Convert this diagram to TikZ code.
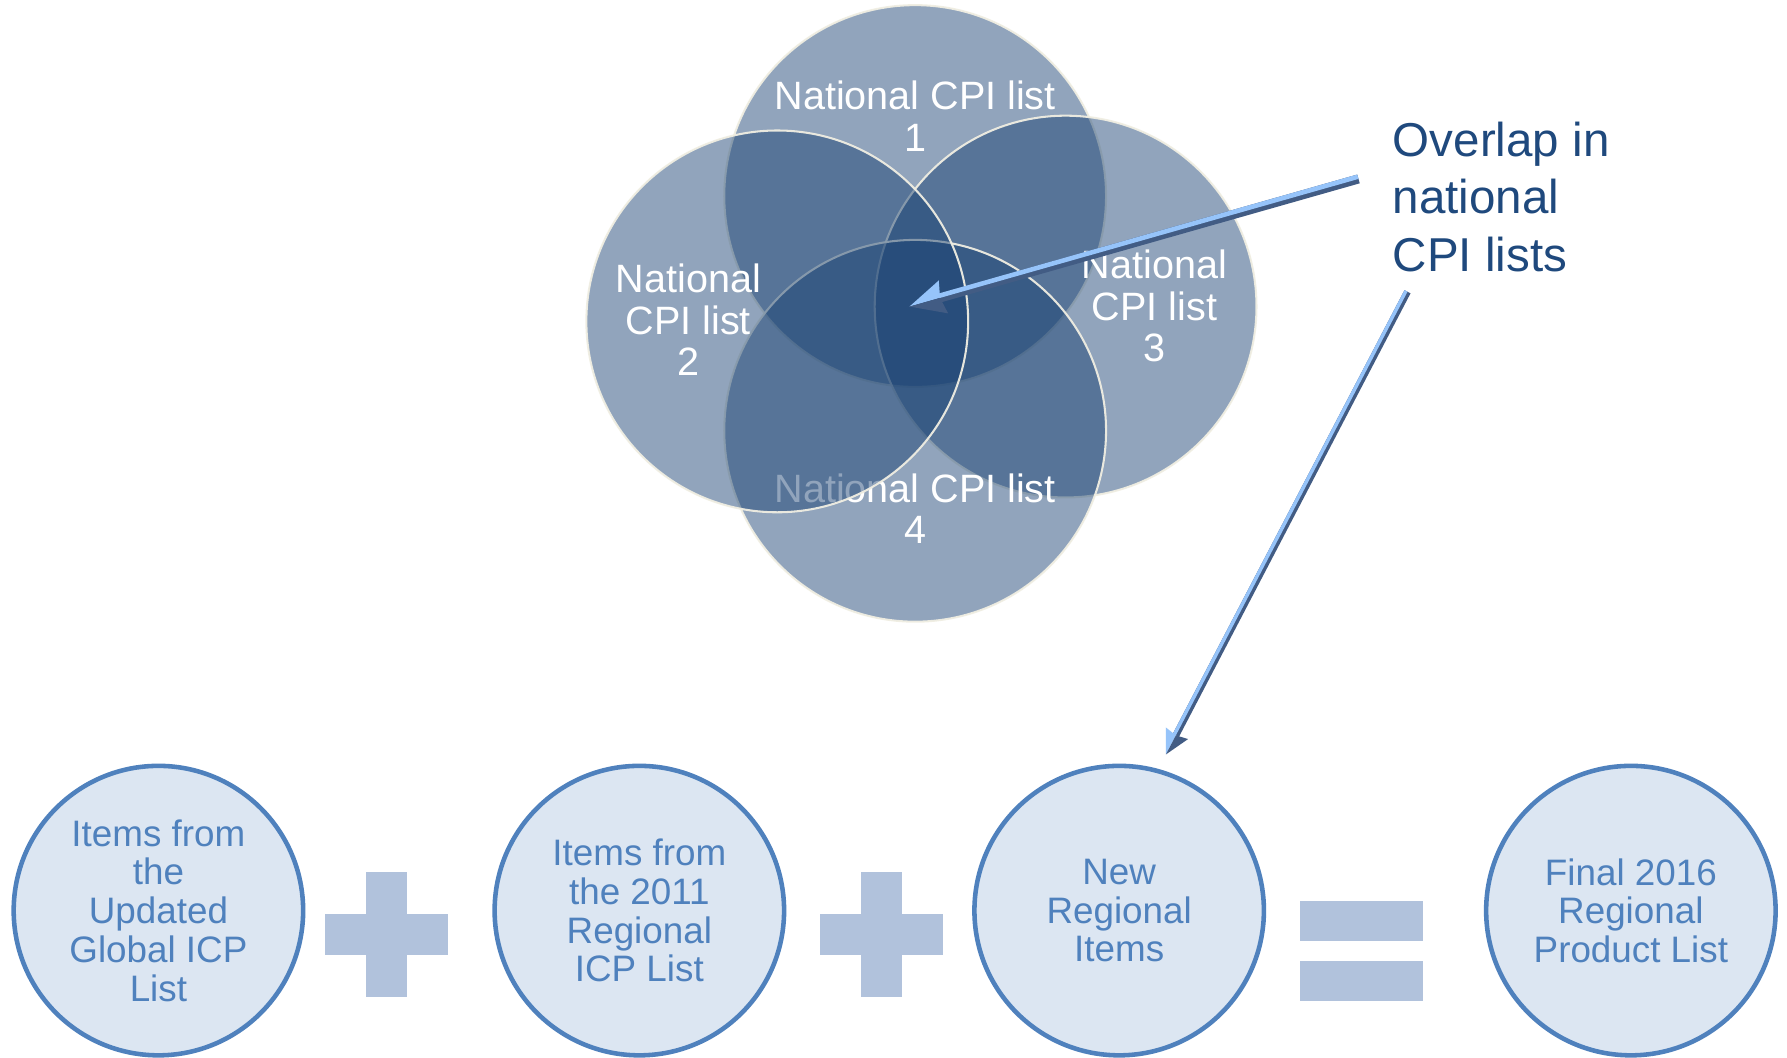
\documentclass[tikz,border=0pt]{standalone}
\usepackage{fontspec}
\setmainfont{Liberation Sans}
\usetikzlibrary{calc}
\definecolor{vennfill}{RGB}{22,63,113}
\definecolor{vennline}{RGB}{240,238,226}
\definecolor{ovalfill}{RGB}{220,230,242}
\definecolor{ovalline}{RGB}{79,129,189}
\definecolor{opcol}{RGB}{177,194,220}
\definecolor{darkblue}{RGB}{31,73,125}
\definecolor{arrlight}{RGB}{150,196,250}
\definecolor{arrdark}{RGB}{66,92,132}
% 3D-looking arrow: #1 start, #2 tip, #3 shaft width, #4 head length, #5 head half width
\newcommand\tdarrow[5]{%
  \coordinate (hn) at ($(#2)!#4*0.9!(#1)$);
  \coordinate (hb) at ($(#2)!#4!(#1)$);
  \draw[arrdark, line width=#3] (#1) -- (hn);
  \draw[arrlight, line width=#3*0.5] ($(#1)!#3*0.25!-90:(#2)$) -- ($(hn)!#3*0.25!90:(#1)$);
  \fill[arrlight] (#2) -- ($(hb)!#5!-90:(#2)$) -- (hn) -- cycle;
  \fill[arrdark] (#2) -- (hn) -- ($(hb)!#5!90:(#2)$) -- cycle;
}
\begin{document}
\begin{tikzpicture}[x=1pt,y=-1pt,
  venn/.style={circle, minimum size=335pt, inner sep=0pt, fill=vennfill, fill opacity=0.47,
    draw=vennline, draw opacity=0.95, line width=1.8pt},
  venntext/.style={text=white, align=center, inner sep=0pt,
    font=\fontsize{34.7}{36.5}\selectfont},
  oval/.style={circle, minimum size=254pt, inner sep=0pt, fill=ovalfill, draw=ovalline,
    line width=4pt, text=ovalline, align=center, font=\fontsize{32.3}{34}\selectfont},
  opbar/.style={fill=opcol},
]
\fill[white] (0,0) rectangle (1568,928);
\useasboundingbox (0,0) rectangle (1568,928);

% Venn circles (drawing order matters for overlaps)
\node[venn] (c1) at (803,172) {};
\node[venntext] (t1) at (803,102) {National CPI list\\1};
\node[venn] (c3) at (935,269) {};
\node[venntext] (t3) at (1013,268.5) {National\\CPI list\\3};
\node[venn] (c4) at (803,378) {};
\node[venntext] (t4) at (803,446.5) {National CPI list\\4};
\node[venn] (c2) at (682,282) {};
\node[venntext] (t2) at (604,280.5) {National\\CPI list\\2};
\coordinate (vc) at (798,269);

% label
\node[text=darkblue, align=left, anchor=west, inner sep=0pt,
  font=\fontsize{41.7}{50.5}\selectfont] (ovl) at (1222,172.5) {Overlap in\\national\\CPI lists};

% bottom row
\node[oval] (e1) at (139,799) {Items from\\the\\Updated\\Global ICP\\List};
\node[oval] (e2) at (561,799) {Items from\\the 2011\\Regional\\ICP List};
\node[oval] (e3) at (982,799) {New\\Regional\\Items};
\node[oval] (e4) at (1431,799) {Final 2016\\Regional\\Product List};

% plus signs
\coordinate (p1) at (339,820);
\coordinate (p2) at (773.5,820);
\foreach \p in {p1,p2}{
  \fill[opbar] ($(\p)+(-54,-18)$) rectangle ($(\p)+(54,18)$);
  \fill[opbar] ($(\p)+(-18,-54.5)$) rectangle ($(\p)+(18,54.5)$);
}
% equals sign
\coordinate (eq) at (1195,834.5);
\fill[opbar] ($(eq)+(-54,-43.5)$) rectangle ($(eq)+(54,-8.5)$);
\fill[opbar] ($(eq)+(-54,8.5)$) rectangle ($(eq)+(54,43.5)$);

% arrows
\coordinate (aS) at (1192,157);
\coordinate (bS) at (1235,256);
\coordinate (bT) at (1023,662);
\tdarrow{aS}{vc}{8pt}{31pt}{15pt}
\tdarrow{bS}{bT}{6pt}{21pt}{11pt}
\end{tikzpicture}
\end{document}
